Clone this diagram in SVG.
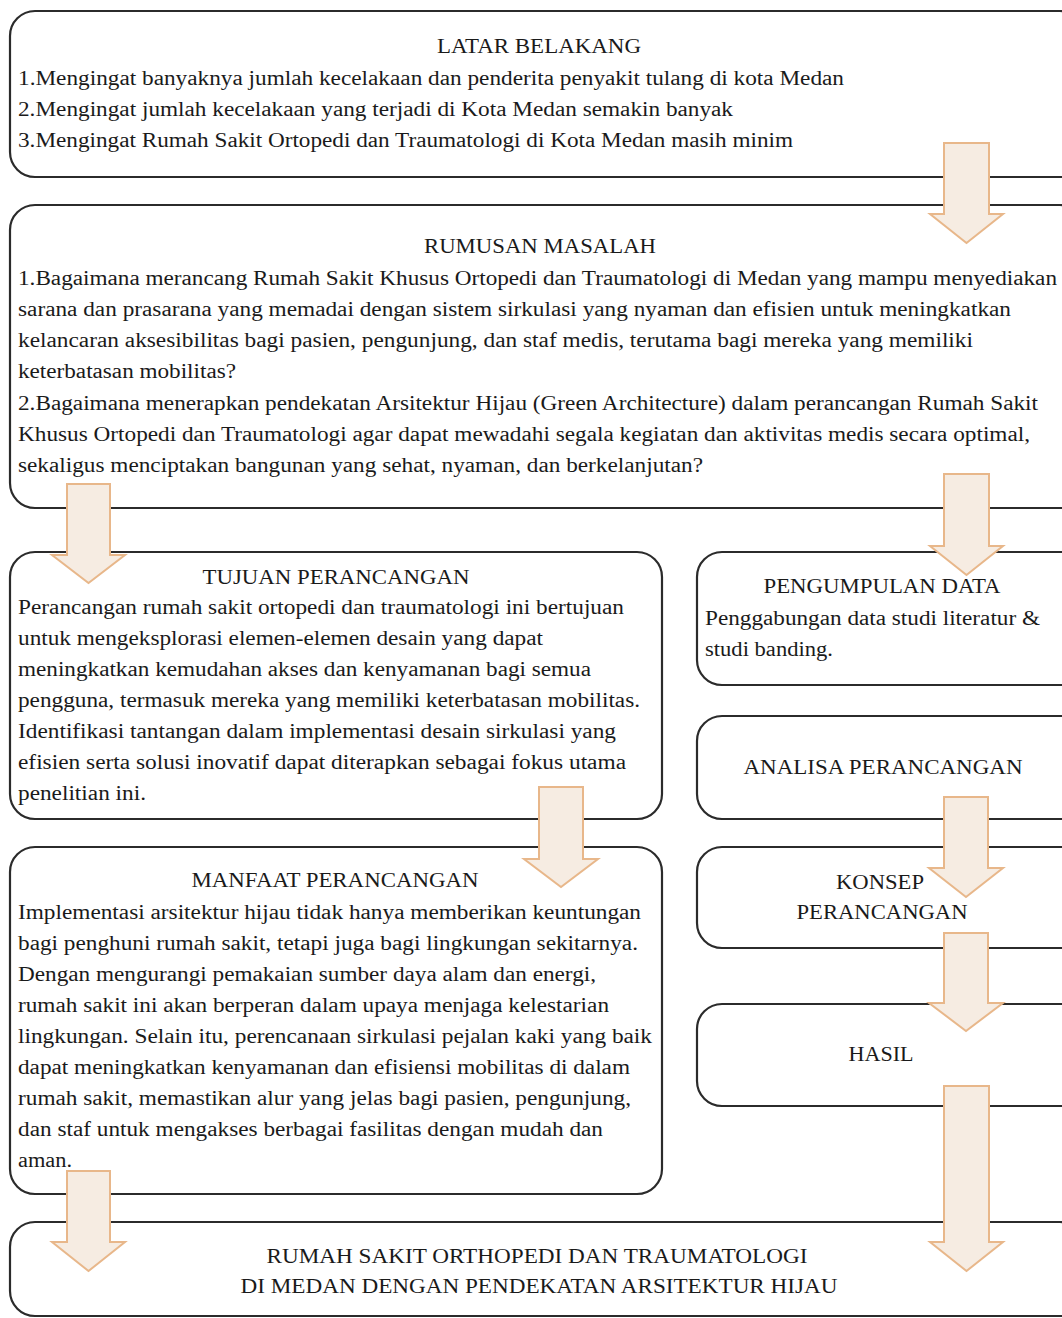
<svg xmlns="http://www.w3.org/2000/svg" width="1062" height="1318" viewBox="0 0 1062 1318">
<style>
.box{fill:#fff;stroke:#2b2b2b;stroke-width:2.2}
.arr{fill:#F6ECE2;stroke:#E8B78A;stroke-width:2}
text{font-family:"Liberation Serif","Times New Roman",serif;font-size:20px;fill:#1a1a1a}
.c{text-anchor:middle}
</style>
<rect width="1062" height="1318" fill="#fff"/>
<g id="latar">
<rect class="box" x="10" y="11" width="1075" height="166" rx="25"/>
<text x="539" y="53" class="c" textLength="204" lengthAdjust="spacingAndGlyphs">LATAR BELAKANG</text>
<text x="18" y="85" textLength="826" lengthAdjust="spacingAndGlyphs">1.Mengingat banyaknya jumlah kecelakaan dan penderita penyakit tulang di kota Medan</text>
<text x="18" y="116" textLength="715" lengthAdjust="spacingAndGlyphs">2.Mengingat jumlah kecelakaan yang terjadi di Kota Medan semakin banyak</text>
<text x="18" y="147" textLength="775" lengthAdjust="spacingAndGlyphs">3.Mengingat Rumah Sakit Ortopedi dan Traumatologi di Kota Medan masih minim</text>
</g>
<g id="rumusan">
<rect class="box" x="10" y="205" width="1075" height="303" rx="25"/>
<text x="540" y="253" class="c" textLength="232" lengthAdjust="spacingAndGlyphs">RUMUSAN MASALAH</text>
<text x="18" y="285" textLength="1039" lengthAdjust="spacingAndGlyphs">1.Bagaimana merancang Rumah Sakit Khusus Ortopedi dan Traumatologi di Medan yang mampu menyediakan</text>
<text x="18" y="316" textLength="993" lengthAdjust="spacingAndGlyphs">sarana dan prasarana yang memadai dengan sistem sirkulasi yang nyaman dan efisien untuk meningkatkan</text>
<text x="18" y="347" textLength="955" lengthAdjust="spacingAndGlyphs">kelancaran aksesibilitas bagi pasien, pengunjung, dan staf medis, terutama bagi mereka yang memiliki</text>
<text x="18" y="378" textLength="218" lengthAdjust="spacingAndGlyphs">keterbatasan mobilitas?</text>
<text x="18" y="410" textLength="1020" lengthAdjust="spacingAndGlyphs">2.Bagaimana menerapkan pendekatan Arsitektur Hijau (Green Architecture) dalam perancangan Rumah Sakit</text>
<text x="18" y="441" textLength="1012" lengthAdjust="spacingAndGlyphs">Khusus Ortopedi dan Traumatologi agar dapat mewadahi segala kegiatan dan aktivitas medis secara optimal,</text>
<text x="18" y="472" textLength="685" lengthAdjust="spacingAndGlyphs">sekaligus menciptakan bangunan yang sehat, nyaman, dan berkelanjutan?</text>
</g>
<g id="tujuan">
<rect class="box" x="10" y="552" width="652" height="267" rx="25"/>
<text x="336" y="584" class="c" textLength="267" lengthAdjust="spacingAndGlyphs">TUJUAN PERANCANGAN</text>
<text x="18" y="614" textLength="606" lengthAdjust="spacingAndGlyphs">Perancangan rumah sakit ortopedi dan traumatologi ini bertujuan</text>
<text x="18" y="645" textLength="525" lengthAdjust="spacingAndGlyphs">untuk mengeksplorasi elemen-elemen desain yang dapat</text>
<text x="18" y="676" textLength="573" lengthAdjust="spacingAndGlyphs">meningkatkan kemudahan akses dan kenyamanan bagi semua</text>
<text x="18" y="707" textLength="622" lengthAdjust="spacingAndGlyphs">pengguna, termasuk mereka yang memiliki keterbatasan mobilitas.</text>
<text x="18" y="738" textLength="598" lengthAdjust="spacingAndGlyphs">Identifikasi tantangan dalam implementasi desain sirkulasi yang</text>
<text x="18" y="769" textLength="608" lengthAdjust="spacingAndGlyphs">efisien serta solusi inovatif dapat diterapkan sebagai fokus utama</text>
<text x="18" y="800" textLength="128" lengthAdjust="spacingAndGlyphs">penelitian ini.</text>
</g>
<g id="manfaat">
<rect class="box" x="10" y="847" width="652" height="347" rx="25"/>
<text x="335" y="887" class="c" textLength="287" lengthAdjust="spacingAndGlyphs">MANFAAT PERANCANGAN</text>
<text x="18" y="919" textLength="623" lengthAdjust="spacingAndGlyphs">Implementasi arsitektur hijau tidak hanya memberikan keuntungan</text>
<text x="18" y="950" textLength="620" lengthAdjust="spacingAndGlyphs">bagi penghuni rumah sakit, tetapi juga bagi lingkungan sekitarnya.</text>
<text x="18" y="981" textLength="578" lengthAdjust="spacingAndGlyphs">Dengan mengurangi pemakaian sumber daya alam dan energi,</text>
<text x="18" y="1012" textLength="591" lengthAdjust="spacingAndGlyphs">rumah sakit ini akan berperan dalam upaya menjaga kelestarian</text>
<text x="18" y="1043" textLength="634" lengthAdjust="spacingAndGlyphs">lingkungan. Selain itu, perencanaan sirkulasi pejalan kaki yang baik</text>
<text x="18" y="1074" textLength="612" lengthAdjust="spacingAndGlyphs">dapat meningkatkan kenyamanan dan efisiensi mobilitas di dalam</text>
<text x="18" y="1105" textLength="613" lengthAdjust="spacingAndGlyphs">rumah sakit, memastikan alur yang jelas bagi pasien, pengunjung,</text>
<text x="18" y="1136" textLength="585" lengthAdjust="spacingAndGlyphs">dan staf untuk mengakses berbagai fasilitas dengan mudah dan</text>
<text x="18" y="1167" textLength="54" lengthAdjust="spacingAndGlyphs">aman.</text>
</g>
<g id="pengumpulan">
<rect class="box" x="697" y="552" width="390" height="133" rx="25"/>
<text x="882" y="593" class="c" textLength="237" lengthAdjust="spacingAndGlyphs">PENGUMPULAN DATA</text>
<text x="705" y="625" textLength="335" lengthAdjust="spacingAndGlyphs">Penggabungan data studi literatur &amp;</text>
<text x="705" y="656" textLength="128" lengthAdjust="spacingAndGlyphs">studi banding.</text>
</g>
<g id="analisa">
<rect class="box" x="697" y="716" width="390" height="103" rx="25"/>
<text x="883" y="774" class="c" textLength="279" lengthAdjust="spacingAndGlyphs">ANALISA PERANCANGAN</text>
</g>
<g id="konsep">
<rect class="box" x="697" y="847" width="390" height="101" rx="25"/>
<text x="880" y="889" class="c" textLength="88" lengthAdjust="spacingAndGlyphs">KONSEP</text>
<text x="882" y="919" class="c" textLength="171" lengthAdjust="spacingAndGlyphs">PERANCANGAN</text>
</g>
<g id="hasil">
<rect class="box" x="697" y="1004" width="390" height="102" rx="25"/>
<text x="881" y="1061" class="c" textLength="65" lengthAdjust="spacingAndGlyphs">HASIL</text>
</g>
<g id="final">
<rect class="box" x="10" y="1222" width="1075" height="94" rx="25"/>
<text x="537" y="1263" class="c" textLength="541" lengthAdjust="spacingAndGlyphs">RUMAH SAKIT ORTHOPEDI DAN TRAUMATOLOGI</text>
<text x="539" y="1293" class="c" textLength="597" lengthAdjust="spacingAndGlyphs">DI MEDAN DENGAN PENDEKATAN ARSITEKTUR HIJAU</text>
</g>
<g id="connectors">
<polygon class="arr" points="944,143 989,143 989,214 1003,214 966.5,243 930,214 944,214"/>
<polygon class="arr" points="67,484 110,484 110,555 125,555 88.5,583 52,555 67,555"/>
<polygon class="arr" points="944,474 989,474 989,546 1003,546 966.5,575 930,546 944,546"/>
<polygon class="arr" points="539,787 583,787 583,859 598,859 561,887 524,859 539,859"/>
<polygon class="arr" points="944,797 988,797 988,868 1003,868 966,897 929,868 944,868"/>
<polygon class="arr" points="944,933 988,933 988,1003 1003,1003 966,1031 929,1003 944,1003"/>
<polygon class="arr" points="944,1086 989,1086 989,1242 1003,1242 966.5,1271 930,1242 944,1242"/>
<polygon class="arr" points="67,1171 110,1171 110,1242 125,1242 88.5,1271 52,1242 67,1242"/>
</g>
</svg>
